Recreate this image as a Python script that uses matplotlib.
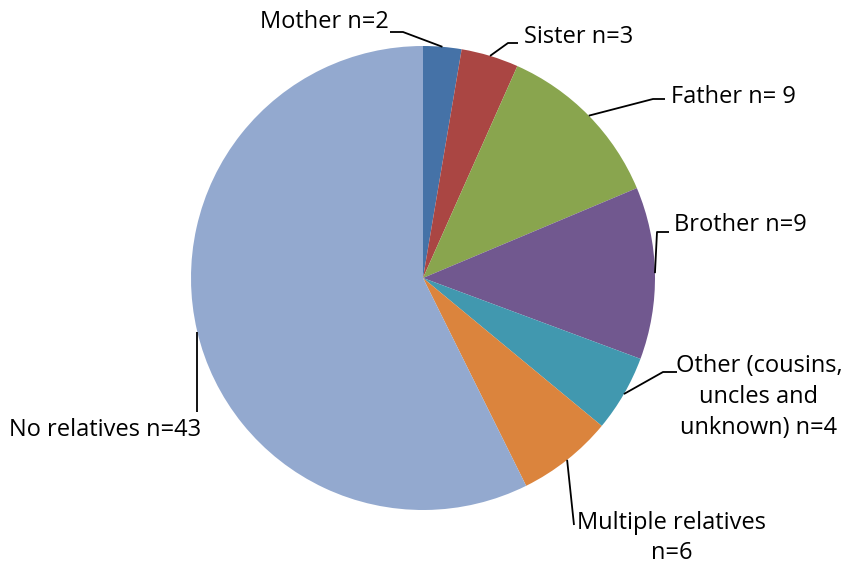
import numpy as np
import matplotlib
matplotlib.use("Agg")
import matplotlib.pyplot as plt

labels = ["Mother n=2", "Sister n=3", "Father n= 9", "Brother n=9",
          "Other (cousins,\nuncles and\nunknown) n=4",
          "Multiple relatives\nn=6", "No relatives n=43"]
# wedge sizes as drawn in the picture (the "Multiple" wedge is drawn as 5)
values = [2, 3, 9, 9, 4, 5, 43]
colors = ["#4572A7", "#AA4643", "#89A54E", "#71588F", "#4198AF", "#DB843D", "#93A9CF"]

W, H = 845, 565
fig = plt.figure(figsize=(W / 100, H / 100), dpi=100)
ax = fig.add_axes([0, 0, 1, 1])

cx, cy, R = 423, H - 278, 232
wedges, _ = ax.pie(values, colors=colors, startangle=90, counterclock=False,
                   center=(cx, cy), radius=R, frame=True,
                   wedgeprops=dict(linewidth=0))
ax.set_xlim(0, W)
ax.set_ylim(0, H)
ax.set_aspect("equal")
ax.axis("off")

font = dict(family=["Open Sans", "DejaVu Sans"], fontsize=17, color="#000000")

# label layout: (text x, text y, ha, elbow points in pixel coords from top)
layout = [
    (389, 22, "right", [(403, 32), (390, 32)]),
    (524, 37, "left", [(508, 43), (518, 43)]),
    (671, 97, "left", [(653, 99), (665, 99)]),
    (674, 225, "left", [(657, 232), (669, 232)]),
    (759, 397, "center", [(663, 372), (677, 372)]),
    (672, 538, "center", [(574, 525)]),
    (201, 430, "right", [(197, 412)]),
]

total = sum(values)
cum = 0
for i, (w, lab, (tx, ty, ha, pts)) in enumerate(zip(wedges, labels, layout)):
    mid = 90 - (cum + values[i] / 2) / total * 360
    cum += values[i]
    sx = cx + R * np.cos(np.radians(mid))
    sy = cy + R * np.sin(np.radians(mid))
    xs = [sx] + [p[0] for p in pts]
    ys = [sy] + [H - p[1] for p in pts]
    if i == len(values) - 1:
        xs[0] = pts[0][0]
        ys[0] = H - 332
    ax.plot(xs, ys, color="black", lw=1.3, solid_capstyle="butt")
    ax.text(tx, H - ty, lab, ha=ha, va="center", multialignment="center",
            linespacing=1.38, **font)

fig.savefig("out.png", dpi=100)
